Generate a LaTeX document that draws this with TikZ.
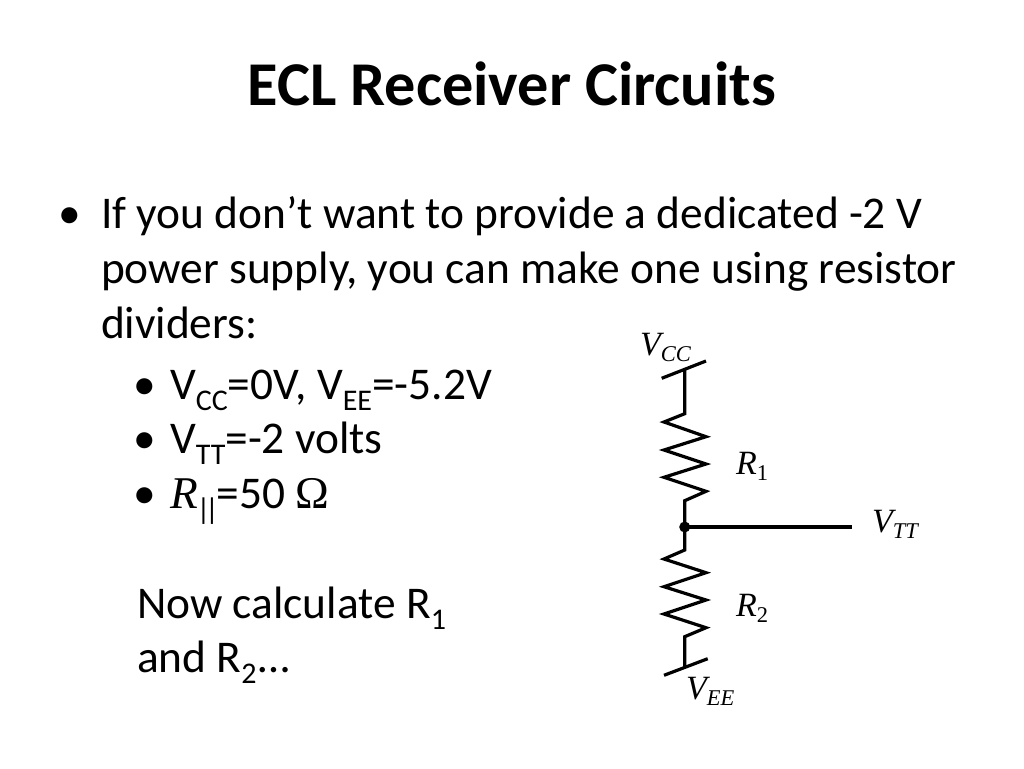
\documentclass[tikz,border=0pt]{standalone}
\usepackage{fontspec}
\setmainfont{Carlito}
\newfontfamily\mathlike[ItalicFont={Liberation Serif Italic}]{Liberation Serif}
\newcommand{\lowsub}[1]{\raisebox{-11pt}{\fontsize{30}{30}\selectfont #1}}
\newcommand{\varsym}[2]{{\mathlike\itshape\fontsize{34}{34}\selectfont #1\raisebox{-6pt}{\fontsize{22.5}{22.5}\selectfont #2}}}
\tikzset{
  txt/.style={anchor=base west,inner sep=0pt,outer sep=0pt,text=black,font=\fontsize{45.4}{45.4}\selectfont},
  ttl/.style={anchor=base,inner sep=0pt,outer sep=0pt,text=black,font=\bfseries\fontsize{62.3}{62.3}\selectfont},
  lbl/.style={anchor=base west,inner sep=0pt,outer sep=0pt,text=black},
  wire/.style={line width=3.2pt,line join=miter,line cap=butt,draw=black},
  dotnode/.style={circle,fill=black,inner sep=0pt,outer sep=0pt,minimum size=11pt}
}
\begin{document}
\begin{tikzpicture}[x=1pt,y=-1pt]
\useasboundingbox (0,0) rectangle (1024,768);
\fill[white] (0,0) rectangle (1024,768);
\node[ttl] (title) at (512,105) {ECL Receiver Circuits};
\node[txt] (b1) at (58,228) {•};
\node[txt] (l1) at (101,228) {If you don’t want to provide a dedicated -2 V};
\node[txt] (l2) at (101,283) {power supply, you can make one using resistor};
\node[txt] (l3) at (101,338) {dividers:};
\node[txt] (b2) at (133,399) {•};
\node[txt] (s1) at (170,399) {V\lowsub{CC}=0V, V\lowsub{EE}=-5.2V};
\node[txt] (b3) at (133,453) {•};
\node[txt] (s2) at (170,453) {V\lowsub{TT}=-2 volts};
\node[txt] (b4) at (133,508) {•};
\node[txt] (s3) at (170,508) {{\mathlike\itshape R}\kern-1pt\lowsub{|\kern-5.5pt|}\kern-2pt=50 {\mathlike Ω}};
\node[txt] (n1) at (137,618) {Now calculate R\lowsub{1}};
\node[txt] (n2) at (137,672) {and R\lowsub{2}\kern2pt…};
\node[lbl] (vcc) at (640,355) {\varsym{V}{CC}};
\node[lbl] (r1) at (736,474) {\varsym{R}{\upshape 1}};
\node[lbl] (vtt) at (872,532) {\varsym{V}{TT}};
\node[lbl] (r2) at (736,616) {\varsym{R}{\upshape 2}};
\node[lbl] (vee) at (686,699) {\varsym{V}{EE}};
\coordinate (topl) at (661.7,378.3);
\coordinate (topr) at (706,361);
\coordinate (topm) at (684.7,370);
\coordinate (botl) at (664,675.3);
\coordinate (botr) at (707.7,658.7);
\coordinate (botm) at (684.7,667);
\coordinate (ttend) at (851.7,527);
\node[dotnode] (j) at (684.7,527) {};
\draw[wire] (topl) -- (topr);
\draw[wire] (botl) -- (botr);
\draw[wire] (j.center) -- (ttend);
\draw[wire] (topm) -- (684.7,413.7) -- (664,422) -- (706,436.7) -- (664,450) -- (706,464) -- (664,477.3) -- (706,491.3) -- (684.7,500.7) -- (j.center);
\draw[wire] (j.center) -- (684.7,550) -- (664,559) -- (706,572.7) -- (664,586.7) -- (706,600) -- (664,614) -- (706,627.7) -- (684.7,636.7) -- (botm);
\end{tikzpicture}
\end{document}
